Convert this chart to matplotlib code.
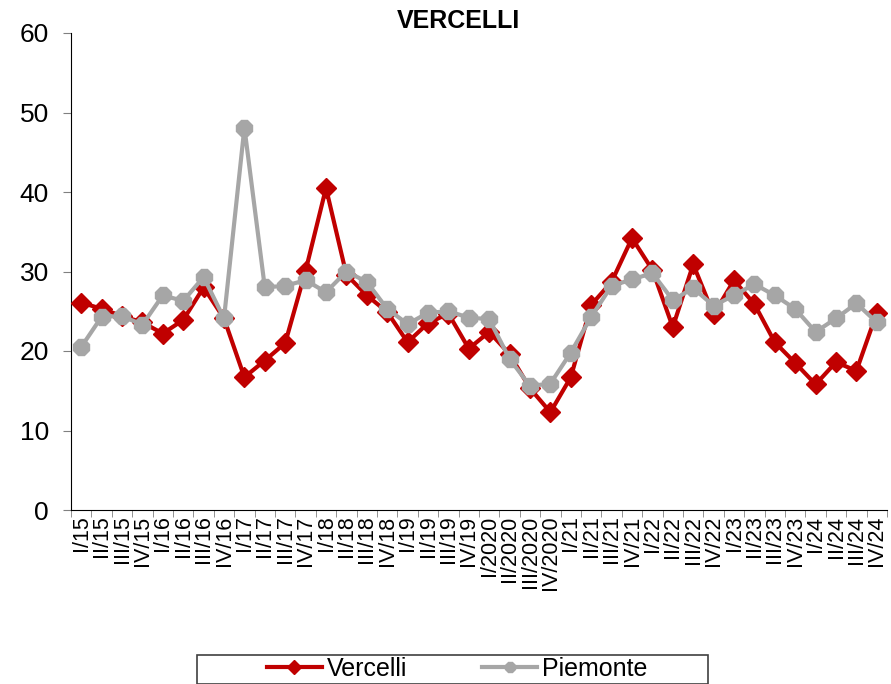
import numpy as np
import matplotlib.pyplot as plt
from matplotlib.ticker import FixedLocator
from matplotlib.patches import Rectangle

plt.rcParams['font.family'] = ['Liberation Sans', 'DejaVu Sans']

# ------------------------------ Data -----------------------------------

quarters = ['I/15', 'II/15', 'III/15', 'IV/15', 'I/16', 'II/16', 'III/16', 'IV/16',
            'I/17', 'II/17', 'III/17', 'IV/17', 'I/18', 'II/18', 'III/18', 'IV/18',
            'I/19', 'II/19', 'III/19', 'IV/19', 'I/2020', 'II/2020', 'III/2020', 'IV/2020',
            'I/21', 'II/21', 'III/21', 'IV/21', 'I/22', 'II/22', 'III/22', 'IV/22',
            'I/23', 'II/23', 'III/23', 'IV/23', 'I/24', 'II/24', 'III/24', 'IV/24']

vercelli = [26.1, 25.3, 24.4, 23.6, 22.2, 23.9, 28.0, 24.1,
            16.7, 18.8, 21.0, 30.1, 40.5, 29.6, 27.0, 24.9,
            21.1, 23.5, 24.7, 20.3, 22.4, 19.6, 15.3, 12.3,
            16.7, 25.8, 28.7, 34.2, 30.2, 23.0, 30.9, 24.6,
            28.9, 25.9, 21.1, 18.5, 15.8, 18.6, 17.5, 24.8]

piemonte = [20.5, 24.3, 24.4, 23.3, 27.0, 26.3, 29.3, 24.1,
            48.1, 28.0, 28.2, 28.9, 27.4, 30.0, 28.7, 25.3,
            23.4, 24.8, 25.0, 24.2, 24.0, 19.0, 15.6, 15.9,
            19.8, 24.3, 28.2, 29.0, 29.8, 26.4, 27.9, 25.7,
            27.0, 28.4, 27.0, 25.3, 22.4, 24.1, 26.0, 23.6]

# ------------------------------ Plotting -----------------------------------

fig = plt.figure(figsize=(8.91, 6.84), dpi=100)
ax = fig.add_axes([71 / 891, 1 - 510 / 684, 816 / 891, 477 / 684])

x = np.arange(len(quarters))
ax.plot(x, vercelli, color='#C00000', linewidth=3, marker='D', markersize=10,
        label='Vercelli', zorder=3)
ax.plot(x, piemonte, color='#A6A6A6', linewidth=3, marker='8', markersize=12,
        label='Piemonte', zorder=4)

ax.set_xlim(-0.5, len(quarters) - 0.5)
ax.set_ylim(0, 60)
ax.set_yticks(range(0, 61, 10))
ax.tick_params(axis='y', labelsize=19, direction='out', length=6, pad=10, color='#808080')

ax.set_xticks(x)
ax.set_xticklabels(quarters, rotation=90, fontsize=15.5)
ax.xaxis.set_minor_locator(FixedLocator(np.arange(-0.5, len(quarters), 1)))
ax.tick_params(axis='x', which='major', length=0, pad=4)
ax.tick_params(axis='x', which='minor', length=5, color='#808080')

ax.spines['top'].set_visible(False)
ax.spines['right'].set_visible(False)

fig.text(458 / 891, 1 - 21 / 684, 'VERCELLI', ha='center', va='center',
         fontsize=18, fontweight='bold')

# Legend box with fixed size like the spreadsheet original
fig.patches.append(Rectangle((197 / 891, 1 - 684 / 684), 511 / 891, 29 / 684,
                             transform=fig.transFigure, fill=False,
                             edgecolor='#404040', linewidth=1.2))
fig.legend(loc='center', bbox_to_anchor=(457 / 891, 1 - 669 / 684), ncol=2,
           fontsize=18, frameon=False, handlelength=2.2, handletextpad=0.2,
           columnspacing=3.0, markerscale=0.7, borderpad=0)

plt.savefig('out.png', dpi=100)
